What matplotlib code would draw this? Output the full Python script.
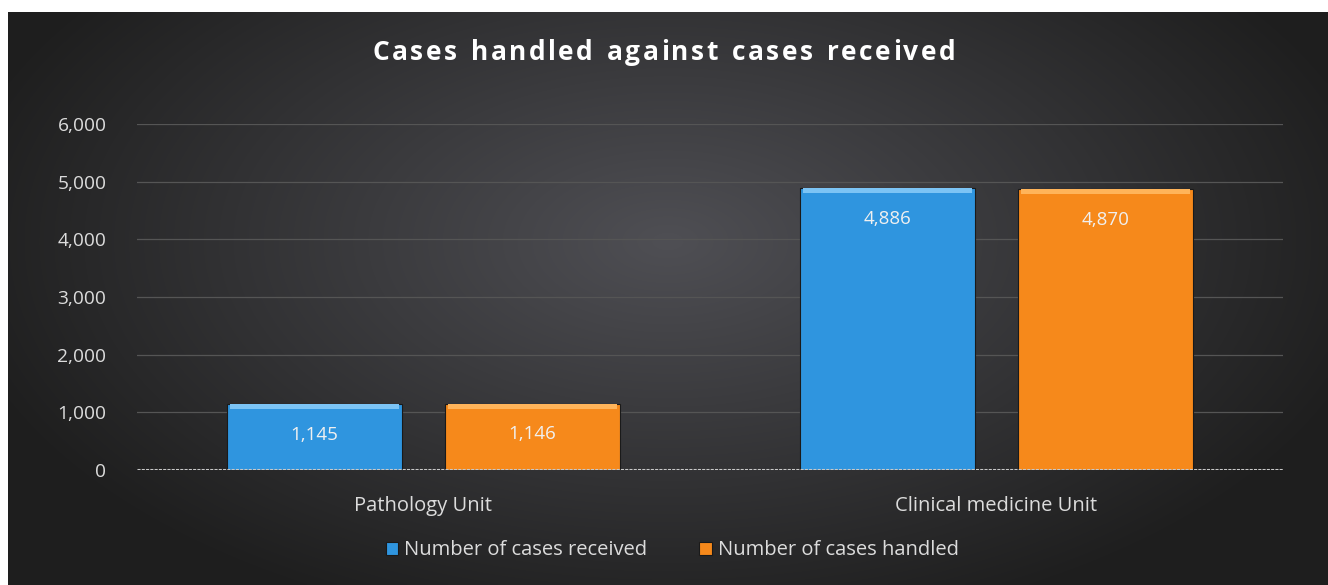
import numpy as np
import matplotlib.pyplot as plt
from matplotlib.ticker import FuncFormatter

# ============================================================
# DATOS
# ============================================================
unidades  = ["Pathology Unit", "Clinical medicine Unit"]
recibidos = [1145, 4886]
atendidos = [1146, 4870]
series    = ["Number of cases received", "Number of cases handled"]
titulo    = "Cases handled against cases received"

colores = ["#2f95df", "#f6891b"]
bordes  = ["#7cc4f5", "#ffb45a"]
texto   = "#dcdcdc"

plt.rcParams["font.family"] = ["Open Sans", "DejaVu Sans"]

fig = plt.figure(figsize=(13.28, 5.85), dpi=100)
fig.patch.set_facecolor("white")

# ============================================================
# FONDO OSCURO CON DEGRADADO RADIAL
# ============================================================
fondo = fig.add_axes([8 / 1328, 0, 1 - 8 / 1328, 1 - 12 / 585])
fondo.set_axis_off()
yy, xx = np.mgrid[-1:1:200j, -1:1:400j]
r = np.sqrt((xx / 1.1) ** 2 + ((yy + 0.2) / 1.4) ** 2)
r = np.clip(r, 0, 1)
c0 = np.array([0.31, 0.31, 0.33])
c1 = np.array([0.12, 0.12, 0.12])
img = c0[None, None, :] * (1 - r[..., None]) + c1[None, None, :] * r[..., None]
fondo.imshow(img, aspect="auto", extent=[0, 1, 0, 1], interpolation="bilinear")

# ============================================================
# GRAFICO DE BARRAS
# ============================================================
ax = fig.add_axes([137 / 1328, 1 - 470 / 585, (1283 - 137) / 1328, (470 - 124) / 585])
ax.patch.set_alpha(0)

x = np.arange(len(unidades))
ancho = 0.305
desp = 0.19

for i, (vals, nombre) in enumerate(zip([recibidos, atendidos], series)):
    pos = x + (-desp if i == 0 else desp)
    ax.bar(pos, vals, width=ancho, color=colores[i], edgecolor="#1a1a1a",
           linewidth=0.8, label=nombre, zorder=3)
    # brillo superior tipo bisel
    ax.bar(pos, [90] * len(vals), bottom=np.array(vals) - 90, width=ancho * 0.97,
           color=bordes[i], linewidth=0, zorder=4)
    for xp, v in zip(pos, vals):
        ax.annotate(f"{v:,}", (xp, v), xytext=(0, -22), textcoords="offset points",
                    ha="center", va="center", color="#f0f0f0", fontsize=13.5, zorder=5)

ax.set_xlim(-0.5, 1.5)
ax.set_ylim(0, 6000)
ax.set_yticks(np.arange(0, 6001, 1000))
ax.yaxis.set_major_formatter(FuncFormatter(lambda v, p: f"{int(v):,}"))
ax.set_xticks(x)
ax.set_xticklabels(unidades)
ax.tick_params(axis="both", length=0, colors=texto)
ax.tick_params(axis="x", pad=19, labelsize=14.5)
ax.tick_params(axis="y", pad=22, labelsize=13.8)
ax.grid(axis="y", color="#555555", linewidth=0.9, zorder=0)
ax.axhline(0, color="#c8c8c8", linewidth=2.2, linestyle=(0, (1, 0.4)), zorder=6)
for s in ax.spines.values():
    s.set_visible(False)

# ============================================================
# TITULO CON ESPACIADO ENTRE LETRAS
# ============================================================
renderer = fig.canvas.get_renderer()
tam_titulo = 19
extra = 2.4  # pixeles entre letras
anchos = []
for ch in titulo:
    t = fig.text(0, 0, ch if ch != " " else "n", fontsize=tam_titulo, fontweight="bold")
    w = t.get_window_extent(renderer).width
    if ch == " ":
        w *= 0.55
    anchos.append(w)
    t.remove()
total = sum(anchos) + extra * (len(titulo) - 1)
xpix = 664 - total / 2
for ch, w in zip(titulo, anchos):
    if ch != " ":
        fig.text(xpix / 1328, 1 - 53 / 585, ch, ha="left", va="center", color="white",
                 fontsize=tam_titulo, fontweight="bold")
    xpix += w + extra

ley = ax.legend(loc="center", bbox_to_anchor=(0.467, -0.232), ncol=2, frameon=False,
                fontsize=14.5, handlelength=0.6, handleheight=0.6, handletextpad=0.3,
                columnspacing=2.6)
for t in ley.get_texts():
    t.set_color(texto)

fig.savefig("out.png", dpi=100)
